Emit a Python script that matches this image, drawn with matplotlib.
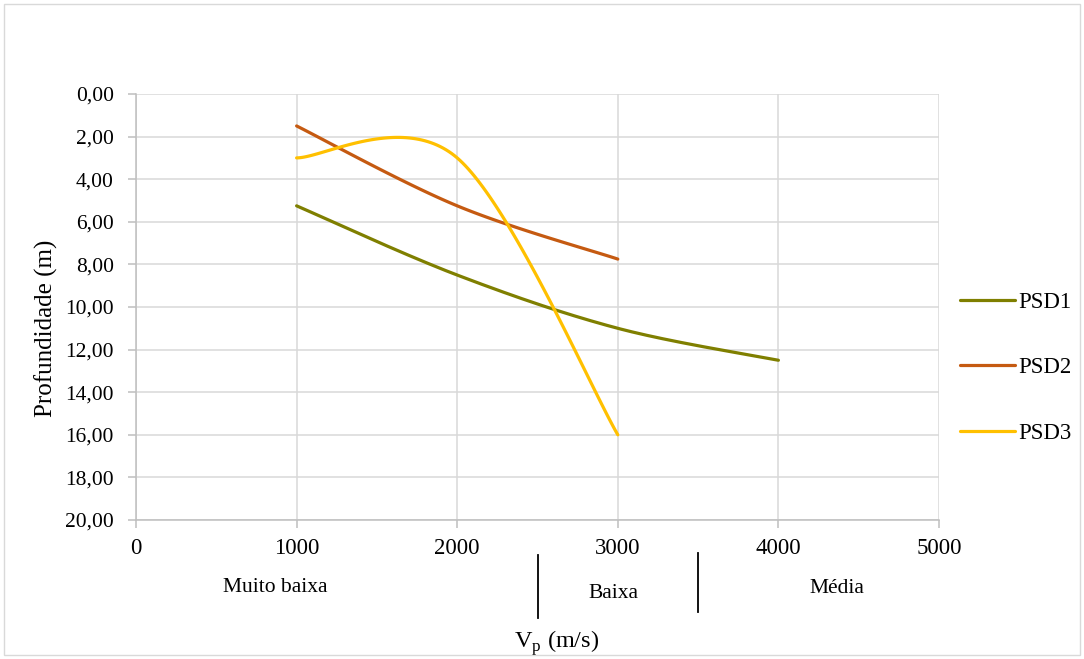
import numpy as np
import matplotlib.pyplot as plt
from matplotlib.patches import Rectangle
import matplotlib.transforms as mtransforms

plt.rcParams['font.family'] = ['Liberation Serif', 'DejaVu Serif']
plt.rcParams['mathtext.fontset'] = 'custom'
plt.rcParams['mathtext.rm'] = 'Liberation Serif'

# data (velocity m/s, depth m)
psd1_x = [1000, 2000, 3000, 4000]
psd1_y = [5.25, 8.5, 11.0, 12.5]
psd2_x = [1000, 2000, 3000]
psd2_y = [1.5, 5.25, 7.75]
psd3_x = [1000, 2000, 3000]
psd3_y = [3.0, 3.0, 16.0]

classes = ['Muito baixa', 'Baixa', 'Média']
class_pos = [870, 2975, 4365]
class_bounds = [2500, 3500]


def smooth(xs, ys, n=60):
    # excel-like smoothed line: catmull-rom converted to bezier segments
    p = np.column_stack([xs, ys]).astype(float)
    p = np.vstack([p[0], p, p[-1]])
    out = []
    t = np.linspace(0, 1, n)[:, None]
    for i in range(1, len(p) - 2):
        p0, p1 = p[i], p[i + 1]
        c1 = p0 + (p[i + 1] - p[i - 1]) / 6
        c2 = p1 - (p[i + 2] - p[i]) / 6
        seg = ((1 - t) ** 3) * p0 + 3 * ((1 - t) ** 2) * t * c1 + 3 * (1 - t) * t ** 2 * c2 + t ** 3 * p1
        out.append(seg)
    seg = np.vstack(out)
    return seg[:, 0], seg[:, 1]


fig = plt.figure(figsize=(10.84, 6.59), dpi=100)
ax = fig.add_axes([136 / 1084, (659 - 520) / 659, (939 - 136) / 1084, 426 / 659])

series = [('PSD1', psd1_x, psd1_y, '#7F7F00'),
          ('PSD2', psd2_x, psd2_y, '#C55A11'),
          ('PSD3', psd3_x, psd3_y, '#FFC000')]
for name, xs, ys, c in series:
    sx, sy = smooth(xs, ys)
    ax.plot(sx, sy, color=c, lw=2.3, label=name, solid_capstyle='round')

ax.set_xlim(0, 5000)
ax.set_ylim(20, 0)
ax.set_xticks(range(0, 5001, 1000))
ax.set_yticks(range(0, 21, 2))
ax.set_yticklabels([f'{v:.2f}'.replace('.', ',') for v in range(0, 21, 2)])
ax.grid(True, color='#D9D9D9', lw=1.1)
ax.set_axisbelow(True)
for s in ['top', 'right']:
    ax.spines[s].set_visible(False)
for s in ['left', 'bottom']:
    ax.spines[s].set_color('#BFBFBF')
    ax.spines[s].set_linewidth(1.1)
ax.tick_params(axis='both', colors='#BFBFBF', length=6, width=1.1, labelcolor='black')
ax.tick_params(axis='x', pad=7, labelsize=16.5)
ax.tick_params(axis='y', pad=10, labelsize=15.5)
ax.set_ylabel('Profundidade (m)', fontsize=18)
ax.yaxis.set_label_coords(-0.097, 0.45)

# velocity classes under the x axis
trans = mtransforms.blended_transform_factory(ax.transData, ax.transAxes)
for lab, xp, yy in zip(classes, class_pos, [-0.158, -0.172, -0.16]):
    ax.text(xp, yy, lab, transform=trans, ha='center', va='center', fontsize=15.5)
for xb, (y0, y1) in zip(class_bounds, [(-0.082, -0.23), (-0.077, -0.216)]):
    ax.plot([xb, xb], [y0, y1], transform=trans, color='black', lw=1.3, clip_on=False)
ax.text(2621, -0.288, r'V$_\mathregular{p}$ (m/s)', transform=trans, ha='center', va='center', fontsize=17.5)

leg = ax.legend(loc='center left', bbox_to_anchor=(1.026, 0.357), frameon=False, fontsize=16.5,
                handlelength=2.4, handletextpad=0.15, labelspacing=1.95, borderpad=0, borderaxespad=0)

fig.patches.append(Rectangle((4 / 1084, 4 / 659), 1076 / 1084, 651 / 659, transform=fig.transFigure,
                             fill=False, edgecolor='#D9D9D9', lw=1.0))

fig.savefig('out.png', dpi=100)
